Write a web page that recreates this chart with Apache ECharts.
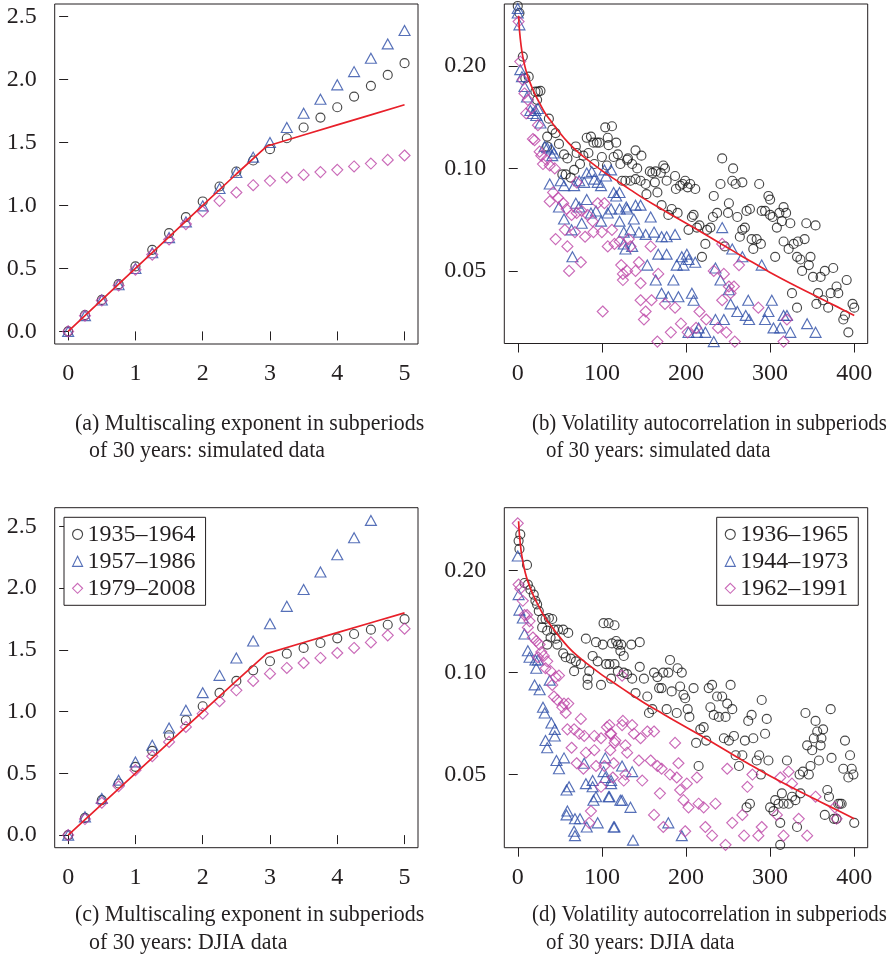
<!DOCTYPE html>
<html><head><meta charset="utf-8">
<script src="https://cdn.jsdelivr.net/npm/echarts@6/dist/echarts.min.js"></script>
<style>html,body{margin:0;padding:0;background:#fff}#c{width:891px;height:963px}</style>
</head><body><div id="c"></div>
<script>
// ---------- data ----------
const qVals = [0,0.25,0.5,0.75,1,1.25,1.5,1.75,2,2.25,2.5,2.75,3,3.25,3.5,3.75,4,4.25,4.5,4.75,5];
// (a) simulated data, multiscaling exponent
const aCircle   = [0,0.13,0.25,0.375,0.516,0.648,0.78,0.907,1.032,1.151,1.27,1.357,1.447,1.534,1.619,1.698,1.78,1.865,1.95,2.037,2.13];
const aTriangle = [0,0.125,0.25,0.37,0.5,0.625,0.745,0.87,0.997,1.135,1.262,1.384,1.50,1.619,1.733,1.844,1.958,2.063,2.169,2.283,2.389];
const aDiamond  = [0,0.125,0.245,0.365,0.49,0.61,0.73,0.852,0.952,1.037,1.103,1.161,1.196,1.222,1.243,1.265,1.283,1.31,1.333,1.362,1.397];
// (c) DJIA data, multiscaling exponent
const cCircle   = [0,0.14,0.283,0.418,0.553,0.682,0.809,0.93,1.044,1.152,1.249,1.335,1.408,1.47,1.516,1.556,1.594,1.629,1.664,1.704,1.75];
const cTriangle = [0,0.148,0.297,0.445,0.593,0.728,0.868,1.011,1.154,1.294,1.435,1.572,1.712,1.853,1.99,2.131,2.271,2.408,2.549,2.68,2.82];
const cDiamond  = [0,0.13,0.262,0.396,0.526,0.639,0.755,0.876,0.984,1.084,1.173,1.249,1.308,1.354,1.394,1.435,1.475,1.516,1.561,1.618,1.672];
// theoretical multiscaling curve (red)
const zetaX = [0,1,2,2.5,2.95,3.5,4,4.5,5];
const zetaY = [0,0.5,1.0,1.25,1.47,1.56,1.64,1.72,1.80];
// theoretical volatility autocorrelation (red)
const acfX = [1,2,4,6,9,12,16,20,25,32,40,48,60,71,85,100,115,134,150,167,185,207,230,247,265,278,300,334,360,380,400];
const acfY = [0.28,0.255,0.229,0.213,0.197,0.186,0.175,0.166,0.157,0.146,0.137,0.129,0.119,0.112,0.105,0.0985,0.093,0.0865,0.0815,0.077,0.0725,0.0675,0.0625,0.059,0.0555,0.0532,0.0495,0.0447,0.0415,0.0392,0.037];
// (b) simulated volatility autocorrelation [lag, value]
const bCircle = [[0,0.30],[2,0.286],[6,0.213],[9,0.184],[13,0.186],[21,0.168],[23,0.159],[24,0.168],[27,0.169],[35,0.124],[35,0.116],[37,0.140],[41,0.130],[45,0.127],[49,0.118],[53,0.096],[55,0.110],[57,0.096],[59,0.107],[63,0.094],[67,0.099],[69,0.116],[70,0.111],[74,0.103],[78,0.109],[82,0.123],[84,0.111],[87,0.124],[90,0.119],[91,0.103],[94,0.119],[97,0.119],[100,0.108],[104,0.132],[106,0.102],[107,0.123],[108,0.117],[112,0.133],[114,0.108],[117,0.119],[119,0.110],[122,0.103],[124,0.092],[128,0.092],[130,0.106],[131,0.107],[134,0.092],[136,0.103],[140,0.113],[140,0.093],[142,0.100],[146,0.092],[147,0.109],[152,0.090],[153,0.084],[157,0.098],[160,0.097],[163,0.091],[164,0.098],[166,0.085],[170,0.097],[171,0.078],[173,0.102],[175,0.100],[177,0.092],[179,0.073],[183,0.076],[187,0.095],[188,0.087],[190,0.074],[193,0.089],[196,0.090],[199,0.092],[202,0.088],[203,0.066],[205,0.090],[207,0.072],[209,0.073],[211,0.087],[213,0.067],[216,0.068],[219,0.055],[223,0.060],[225,0.066],[229,0.067],[232,0.072],[233,0.083],[237,0.074],[241,0.090],[243,0.107],[246,0.059],[250,0.074],[251,0.079],[255,0.092],[256,0.100],[259,0.090],[261,0.072],[264,0.063],[267,0.066],[267,0.091],[270,0.067],[272,0.075],[276,0.076],[278,0.062],[280,0.058],[284,0.062],[287,0.090],[289,0.060],[290,0.075],[294,0.075],[298,0.083],[300,0.081],[300,0.073],[303,0.072],[306,0.055],[308,0.067],[311,0.074],[314,0.070],[316,0.077],[316,0.061],[319,0.074],[322,0.058],[324,0.069],[326,0.043],[328,0.060],[332,0.055],[332,0.039],[333,0.061],[336,0.054],[338,0.050],[341,0.062],[343,0.069],[346,0.052],[348,0.055],[351,0.048],[354,0.068],[355,0.040],[357,0.043],[360,0.048],[363,0.041],[365,0.050],[369,0.039],[372,0.043],[375,0.051],[379,0.045],[381,0.043],[387,0.036],[389,0.037],[391,0.047],[393,0.033],[398,0.040],[400,0.039]];
const bTriangle = [[0,0.295],[0,0.286],[2,0.264],[3,0.195],[5,0.186],[8,0.174],[11,0.162],[15,0.148],[18,0.145],[21,0.148],[22,0.143],[24,0.150],[27,0.136],[32,0.116],[35,0.115],[38,0.090],[40,0.114],[41,0.109],[43,0.111],[49,0.077],[51,0.092],[55,0.089],[55,0.071],[64,0.066],[65,0.055],[67,0.089],[69,0.079],[73,0.092],[73,0.077],[76,0.069],[79,0.091],[82,0.097],[82,0.081],[87,0.074],[88,0.098],[91,0.093],[93,0.075],[95,0.091],[99,0.089],[99,0.070],[103,0.099],[105,0.095],[107,0.074],[111,0.099],[111,0.076],[114,0.085],[117,0.083],[121,0.085],[121,0.076],[121,0.070],[126,0.065],[126,0.060],[128,0.058],[129,0.077],[130,0.076],[134,0.066],[136,0.059],[138,0.071],[140,0.078],[144,0.065],[146,0.078],[152,0.064],[154,0.052],[158,0.072],[162,0.065],[164,0.047],[167,0.056],[171,0.063],[171,0.043],[177,0.063],[177,0.056],[179,0.042],[185,0.047],[187,0.064],[189,0.052],[191,0.042],[195,0.055],[197,0.052],[201,0.056],[203,0.054],[203,0.033],[207,0.043],[209,0.041],[211,0.053],[213,0.033],[215,0.034],[223,0.033],[233,0.031],[235,0.051],[235,0.036],[241,0.047],[243,0.067],[245,0.036],[251,0.044],[253,0.040],[255,0.058],[261,0.038],[267,0.055],[271,0.037],[274,0.041],[275,0.036],[290,0.052],[294,0.036],[298,0.038],[302,0.041],[304,0.034],[312,0.034],[316,0.037],[320,0.037],[324,0.033],[344,0.035],[354,0.033]];
const bDiamond = [[1,0.270],[3,0.206],[6,0.182],[8,0.166],[10,0.145],[12,0.159],[16,0.150],[18,0.122],[20,0.121],[24,0.134],[26,0.112],[28,0.109],[30,0.103],[34,0.106],[38,0.102],[38,0.080],[42,0.085],[44,0.100],[45,0.062],[48,0.082],[54,0.079],[56,0.066],[58,0.076],[59,0.059],[61,0.050],[64,0.073],[68,0.065],[70,0.091],[70,0.074],[75,0.053],[76,0.075],[80,0.063],[83,0.073],[89,0.070],[90,0.065],[95,0.079],[100,0.065],[101,0.038],[103,0.079],[107,0.059],[112,0.066],[115,0.060],[121,0.061],[123,0.052],[125,0.049],[125,0.047],[130,0.050],[132,0.062],[134,0.059],[140,0.050],[144,0.053],[146,0.046],[146,0.041],[150,0.036],[152,0.038],[158,0.059],[159,0.041],[166,0.031],[167,0.049],[175,0.040],[182,0.033],[187,0.039],[194,0.035],[202,0.033],[212,0.034],[216,0.038],[224,0.036],[233,0.050],[238,0.034],[243,0.060],[243,0.041],[245,0.049],[248,0.033],[251,0.045],[253,0.043],[257,0.045],[258,0.031],[263,0.052],[286,0.039],[316,0.031],[320,0.036]];
// (d) DJIA volatility autocorrelation [lag, value]
const dCircle = [[1,0.245],[2,0.232],[3,0.256],[8,0.184],[11,0.208],[12,0.182],[15,0.176],[19,0.170],[21,0.163],[23,0.159],[25,0.152],[29,0.144],[29,0.136],[33,0.144],[35,0.133],[35,0.121],[37,0.145],[39,0.127],[41,0.144],[43,0.134],[45,0.126],[47,0.121],[48,0.134],[54,0.134],[54,0.114],[57,0.111],[60,0.131],[63,0.110],[67,0.101],[69,0.108],[75,0.106],[81,0.126],[83,0.096],[83,0.092],[85,0.101],[89,0.112],[93,0.123],[95,0.108],[99,0.092],[101,0.121],[102,0.140],[105,0.106],[108,0.140],[109,0.106],[111,0.096],[112,0.122],[115,0.106],[115,0.138],[117,0.124],[119,0.101],[119,0.121],[122,0.116],[123,0.121],[126,0.112],[126,0.100],[130,0.099],[135,0.121],[136,0.096],[140,0.087],[145,0.123],[145,0.104],[150,0.096],[154,0.085],[156,0.076],[160,0.078],[162,0.100],[166,0.097],[168,0.090],[171,0.090],[173,0.100],[177,0.078],[179,0.100],[181,0.109],[183,0.088],[189,0.076],[190,0.103],[193,0.091],[195,0.100],[197,0.086],[199,0.084],[202,0.078],[204,0.074],[209,0.090],[212,0.062],[215,0.053],[217,0.068],[221,0.069],[224,0.063],[227,0.090],[229,0.079],[231,0.092],[233,0.075],[237,0.085],[239,0.074],[243,0.085],[245,0.064],[247,0.074],[249,0.081],[251,0.063],[253,0.092],[255,0.078],[257,0.065],[259,0.057],[263,0.053],[267,0.057],[270,0.063],[272,0.040],[274,0.072],[276,0.041],[278,0.075],[280,0.064],[284,0.055],[287,0.057],[289,0.050],[290,0.083],[294,0.066],[296,0.073],[298,0.055],[300,0.040],[304,0.039],[306,0.042],[310,0.041],[312,0.036],[312,0.031],[314,0.044],[316,0.041],[320,0.055],[322,0.041],[326,0.043],[330,0.042],[332,0.035],[335,0.050],[336,0.044],[339,0.051],[342,0.076],[344,0.061],[346,0.050],[348,0.053],[350,0.059],[352,0.064],[354,0.072],[356,0.067],[358,0.055],[360,0.061],[361,0.064],[363,0.068],[365,0.038],[368,0.045],[370,0.043],[372,0.078],[373,0.056],[376,0.037],[379,0.037],[381,0.041],[383,0.041],[385,0.041],[387,0.052],[389,0.063],[393,0.049],[395,0.057],[397,0.052],[399,0.050],[400,0.036]];
const dTriangle = [[0,0.221],[1,0.170],[2,0.153],[6,0.145],[8,0.130],[12,0.116],[14,0.111],[20,0.092],[21,0.109],[22,0.103],[24,0.109],[26,0.089],[30,0.079],[32,0.076],[33,0.063],[35,0.060],[38,0.095],[40,0.071],[44,0.068],[44,0.065],[46,0.055],[49,0.052],[55,0.056],[58,0.045],[58,0.038],[59,0.039],[61,0.046],[67,0.034],[68,0.037],[68,0.033],[74,0.037],[79,0.054],[81,0.047],[82,0.035],[89,0.046],[89,0.048],[90,0.042],[93,0.043],[95,0.036],[102,0.051],[104,0.056],[104,0.049],[108,0.043],[109,0.043],[111,0.047],[111,0.048],[114,0.035],[115,0.035],[122,0.042],[124,0.053],[124,0.042],[134,0.040],[136,0.051],[137,0.032],[179,0.036],[195,0.033]];
const dDiamond = [[0,0.276],[1,0.182],[3,0.177],[6,0.163],[8,0.148],[11,0.148],[12,0.136],[14,0.142],[18,0.127],[22,0.124],[24,0.111],[26,0.121],[28,0.115],[31,0.112],[33,0.103],[35,0.108],[39,0.101],[41,0.092],[43,0.085],[45,0.097],[47,0.083],[49,0.098],[53,0.079],[55,0.081],[57,0.076],[59,0.068],[60,0.081],[64,0.060],[67,0.068],[70,0.054],[73,0.066],[75,0.073],[78,0.052],[79,0.065],[81,0.058],[85,0.036],[87,0.039],[91,0.065],[91,0.059],[93,0.053],[99,0.064],[99,0.046],[103,0.053],[106,0.069],[109,0.070],[110,0.066],[110,0.059],[111,0.066],[113,0.049],[114,0.054],[115,0.062],[116,0.063],[124,0.070],[124,0.098],[125,0.072],[126,0.048],[128,0.061],[128,0.050],[130,0.058],[136,0.070],[138,0.066],[144,0.055],[146,0.064],[148,0.048],[154,0.067],[158,0.055],[162,0.067],[162,0.038],[166,0.053],[169,0.044],[171,0.052],[173,0.035],[181,0.050],[187,0.062],[189,0.049],[191,0.054],[193,0.045],[197,0.042],[199,0.034],[201,0.047],[203,0.040],[213,0.049],[215,0.041],[221,0.040],[223,0.035],[231,0.033],[235,0.041],[247,0.031],[249,0.052],[255,0.036],[267,0.038],[269,0.033],[273,0.046],[279,0.050],[286,0.033],[290,0.035],[308,0.038],[312,0.049],[316,0.033],[322,0.051],[326,0.047],[334,0.037],[344,0.033],[354,0.043],[377,0.040],[379,0.037]];
// ticks & labels
const qTicks = [0,1,2,3,4,5];
const zetaTicks = [0,0.5,1,1.5,2,2.5];
const lagTicks = [0,100,200,300,400];
const acfTicks = [0.05,0.1,0.2];
const legendC = ['1935–1964','1957–1986','1979–2008'];
const legendD = ['1936–1965','1944–1973','1962–1991'];
const captionA = ['(a) Multiscaling exponent in subperiods','of 30 years: simulated data'];
const captionB = ['(b) Volatility autocorrelation in subperiods','of 30 years: simulated data'];
const captionC = ['(c) Multiscaling exponent in subperiods','of 30 years: DJIA data'];
const captionD = ['(d) Volatility autocorrelation in subperiods','of 30 years: DJIA data'];

// ---------- styling ----------
const INK = '#231f20';
const FONT = '"Liberation Serif", "Times New Roman", serif';
const COL = {circle: '#1a1a1a', triangle: '#2c4ca6', diamond: '#bd45a6', red: '#e8202a'};
const SYM = {circle: 9, triangle: [11, 10], diamond: [11, 11]};
const L = v => Math.log10(v);

const grids = [
  {left: 54.7, top: 4, width: 363.3, height: 340},
  {left: 504.3, top: 4, width: 363.4, height: 339.5},
  {left: 54.7, top: 507.7, width: 363.3, height: 340},
  {left: 504.3, top: 507.7, width: 363.4, height: 340}
].map(g => Object.assign({show: true, borderColor: INK, borderWidth: 1, backgroundColor: 'transparent', containLabel: false, outerBoundsMode: 'none'}, g));

function xAx(idx, min, max, ticks) {
  return {type: 'value', gridIndex: idx, min, max, splitLine: {show: false}, axisLine: {show: false},
    axisTick: {show: true, inside: false, length: 9, customValues: ticks, lineStyle: {color: INK, width: 1}},
    axisLabel: {customValues: ticks, margin: 18, color: INK, fontSize: 24, fontFamily: FONT}};
}
function yAx(idx, min, max, ticks, fmt) {
  return {type: 'value', gridIndex: idx, min, max, splitLine: {show: false}, axisLine: {show: false},
    axisTick: {show: true, inside: false, length: 9, customValues: ticks, lineStyle: {color: INK, width: 1}},
    axisLabel: {customValues: ticks, margin: 18, color: INK, fontSize: 24, fontFamily: FONT, formatter: fmt}};
}
const fmtQ = v => (+v).toFixed(1);
const fmtAcf = v => Math.pow(10, v).toFixed(2);

function scat(name, kind, idx, data) {
  return {type: 'scatter', name, xAxisIndex: idx, yAxisIndex: idx, data, symbol: kind, symbolSize: SYM[kind],
    itemStyle: {color: 'rgba(0,0,0,0)', borderColor: COL[kind], borderWidth: 1.15}, emphasis: {disabled: true},
    silent: true, animation: false, z: 2};
}
function line(name, idx, data, smooth) {
  return {type: 'line', name, xAxisIndex: idx, yAxisIndex: idx, data, showSymbol: false,
    smooth: smooth ? 0.4 : false,
    lineStyle: {color: COL.red, width: 1.7}, itemStyle: {color: COL.red}, silent: true, animation: false, z: 3};
}
const qPairs = arr => qVals.map((q, i) => [q, arr[i]]);
const logPairs = arr => arr.map(p => [p[0], L(p[1])]);
const zetaLine = zetaX.map((x, i) => [x, zetaY[i]]);
const acfLine = acfX.map((x, i) => [x, L(acfY[i])]);

const series = [
  scat('a-circle', 'circle', 0, qPairs(aCircle)),
  scat('a-triangle', 'triangle', 0, qPairs(aTriangle)),
  scat('a-diamond', 'diamond', 0, qPairs(aDiamond)),
  line('a-theory', 0, zetaLine, false),
  scat('b-circle', 'circle', 1, logPairs(bCircle)),
  scat('b-triangle', 'triangle', 1, logPairs(bTriangle)),
  scat('b-diamond', 'diamond', 1, logPairs(bDiamond)),
  line('b-theory', 1, acfLine, true),
  scat(legendC[0], 'circle', 2, qPairs(cCircle)),
  scat(legendC[1], 'triangle', 2, qPairs(cTriangle)),
  scat(legendC[2], 'diamond', 2, qPairs(cDiamond)),
  line('c-theory', 2, zetaLine, false),
  scat(legendD[0], 'circle', 3, logPairs(dCircle)),
  scat(legendD[1], 'triangle', 3, logPairs(dTriangle)),
  scat(legendD[2], 'diamond', 3, logPairs(dDiamond)),
  line('d-theory', 3, acfLine, true)
];

function legend(names, left) {
  const kinds = ['circle', 'triangle', 'diamond'];
  return {show: true, orient: 'vertical', left, top: 517.3, selectedMode: false, itemGap: 3, itemWidth: 10, itemHeight: 10,
    padding: [5, 10, 5, 8], borderColor: INK, borderWidth: 1, backgroundColor: '#fff', z: 10,
    textStyle: {color: INK, fontSize: 24, fontFamily: FONT},
    data: names.map((n, i) => ({name: n, icon: kinds[i],
      itemStyle: {color: 'rgba(0,0,0,0)', borderColor: COL[kinds[i]], borderWidth: 1.15}}))};
}

function caption(lines, x1, x2, y1, y2, sx) {
  const mk = (t, x, y) => ({type: 'text', x, y, scaleX: sx,
    style: {text: t, fill: INK, font: '24px ' + FONT, textVerticalAlign: 'middle', verticalAlign: 'middle'}});
  return [mk(lines[0], x1, y1), mk(lines[1], x2, y2)];
}

const chart = echarts.init(document.getElementById('c'), null, {renderer: 'canvas'});
chart.setOption({
  animation: false,
  backgroundColor: '#fff',
  grid: grids,
  xAxis: [xAx(0, -0.2, 5.2, qTicks), xAx(1, -16, 416, lagTicks), xAx(2, -0.2, 5.2, qTicks), xAx(3, -16, 416, lagTicks)],
  yAxis: [yAx(0, -0.1, 2.6, zetaTicks, fmtQ), yAx(1, L(0.0306), L(0.304), acfTicks.map(L), fmtAcf),
          yAx(2, -0.102, 2.652, zetaTicks, fmtQ), yAx(3, L(0.0304), L(0.307), acfTicks.map(L), fmtAcf)],
  legend: [legend(legendC, 64), legend(legendD, 716.7)],
  series,
  graphic: [].concat(
    caption(captionA, 75, 89, 424, 451, 0.913),
    caption(captionB, 532, 546, 424, 451, 0.868),
    caption(captionC, 75, 89, 915, 943, 0.913),
    caption(captionD, 532, 546, 915, 943, 0.868))
});
</script></body></html>
